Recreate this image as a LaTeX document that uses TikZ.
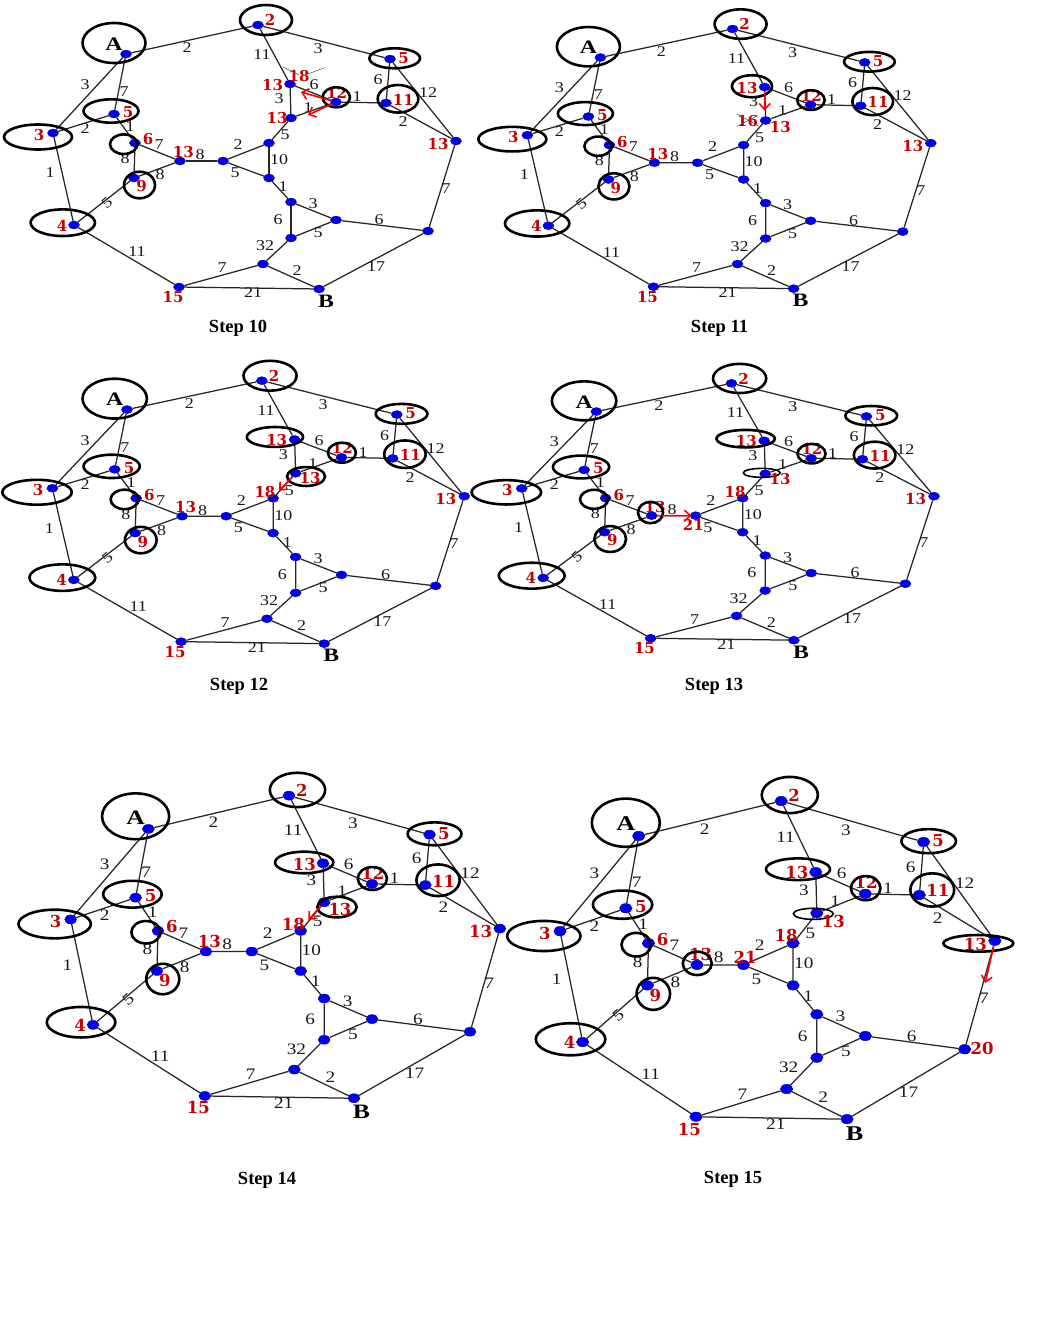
\documentclass[tikz,border=0pt]{standalone}
\usepackage{fontspec}
\setmainfont{Liberation Serif}
\newfontfamily\wfont{Liberation Serif}[FakeStretch=1.2]
\newfontfamily\abfont{Liberation Serif}[FakeStretch=1.25]
\newfontfamily\rfont{DejaVu Serif}
\usetikzlibrary{shapes.geometric,arrows.meta}
\definecolor{lblred}{RGB}{200,0,0}
\definecolor{dotblue}{RGB}{0,0,245}
\def\wsz{15}\def\rsz{15}\def\absz{19}\def\dotw{11pt}\def\doth{8pt}
\tikzset{
 v/.style={ellipse, fill=dotblue, draw=blue!55!black, line width=0.4pt, minimum width=\dotw, minimum height=\doth, inner sep=0pt},
 e/.style={draw=black!85, line width=1.25pt},
 wl/.style={font=\wfont\fontsize{\wsz}{\wsz}\selectfont, inner sep=0pt, text=black!90},
 rl/.style={font=\rfont\bfseries\fontsize{\rsz}{\rsz}\selectfont, inner sep=0pt, text=lblred},
 ab/.style={font=\abfont\bfseries\fontsize{\absz}{\absz}\selectfont, inner sep=0pt},
 ttl/.style={font=\bfseries\fontsize{18.5}{18.5}\selectfont, inner sep=0pt},
 ring/.style={draw=black, line width=2.6pt},
 thinring/.style={draw=black, line width=1.6pt},
 rarrow/.style={draw=red, line width=1.6pt, -{Straight Barb[length=6pt,width=11pt]}},
 cross/.style={draw=black!70, line width=0.5pt},
}
\newcommand\basegraph{%
 \node[v] (A) at (126,54) {};
 \node[v] (n2) at (258,25) {};
 \node[v] (n5R) at (390,59) {};
 \node[v] (n3) at (53,133) {};
 \node[v] (n4) at (74,225) {};
 \node[v] (n15) at (179,287) {};
 \node[v] (B) at (319,289) {};
 \node[v] (I) at (428,231) {};
 \node[v] (R) at (456,141) {};
 \node[v] (n11) at (386,103) {};
 \node[v] (n12) at (336,102) {};
 \node[v] (Ua) at (290,84) {};
 \node[v] (Ub) at (291,118) {};
 \node[v] (D) at (269,143) {};
 \node[v] (C) at (223,161) {};
 \node[v] (M) at (180,161) {};
 \node[v] (n6) at (135,143) {};
 \node[v] (n9) at (134,178) {};
 \node[v] (n5L) at (114,114) {};
 \node[v] (E) at (269,178) {};
 \node[v] (F) at (291,202) {};
 \node[v] (G) at (336,220) {};
 \node[v] (H) at (291,238) {};
 \node[v] (J) at (263,264) {};
 \draw[e] (A) -- (n2); \draw[e] (A) -- (n3); \draw[e] (A) -- (n5L);
 \draw[e] (n2) -- (n5R); \draw[e] (n2) -- (Ua);
 \draw[e] (n3) -- (n5L); \draw[e] (n3) -- (n4);
 \draw[e] (n5L) -- (n6); \draw[e] (n6) -- (n9); \draw[e] (n6) -- (M); \draw[e] (n9) -- (M);
 \draw[e] (M) -- (C); \draw[e] (n9) -- (n4); \draw[e] (n4) -- (n15);
 \draw[e] (Ua) -- (Ub); \draw[e] (Ua) -- (n12); \draw[e] (Ub) -- (n12);
 \draw[e] (n12) -- (n11); \draw[e] (n5R) -- (n11); \draw[e] (n5R) -- (R); \draw[e] (n11) -- (R);
 \draw[e] (Ub) -- (D); \draw[e] (C) -- (D); \draw[e] (C) -- (E); \draw[e] (D) -- (E);
 \draw[e] (E) -- (F); \draw[e] (F) -- (G); \draw[e] (F) -- (H); \draw[e] (H) -- (G);
 \draw[e] (G) -- (I); \draw[e] (R) -- (I); \draw[e] (H) -- (J); \draw[e] (J) -- (n15);
 \draw[e] (J) -- (B); \draw[e] (n15) -- (B); \draw[e] (B) -- (I);
 \node[wl] (wA2) at (187,48) {2};
 \node[wl] (wA3) at (85,85) {3};
 \node[wl] (wA5) at (124,92) {7};
 \node[wl] (w25) at (318,49) {3};
 \node[wl] (w2U) at (262,55) {11};
 \node[wl] (w35) at (85,129) {2};
 \node[wl] (w34) at (50,173) {1};
 \node[wl] (w56) at (130,127) {1};
 \node[wl] (w69) at (125,159) {8};
 \node[wl] (w6M) at (159,145) {7};
 \node[wl] (w9M) at (160,175) {8};
 \node[wl] (wMC) at (200,155) {8};
 \node[wl,rotate=40] (w94) at (107,203) {5};
 \node[wl] (w415) at (137,252) {11};
 \node[wl] (wUU) at (279,99) {3};
 \node[wl] (wU12) at (314,85) {6};
 \node[wl] (wUb12) at (308,108) {1};
 \node[wl] (w1211) at (357,97) {1};
 \node[wl] (w511) at (378,80) {6};
 \node[wl] (w5R) at (428,93) {12};
 \node[wl] (w11R) at (403,122) {2};
 \node[wl] (wUD) at (285,135) {5};
 \node[wl] (wCD) at (238,145) {2};
 \node[wl] (wCE) at (235,173) {5};
 \node[wl] (wDE) at (279,160) {10};
 \node[wl] (wEF) at (283,187) {1};
 \node[wl] (wFG) at (313,204) {3};
 \node[wl] (wFH) at (278,220) {6};
 \node[wl] (wHG) at (318,233) {5};
 \node[wl] (wGI) at (379,220) {6};
 \node[wl] (wRI) at (446,189) {7};
 \node[wl] (wHJ) at (265,246) {32};
 \node[wl] (wJ15) at (222,268) {7};
 \node[wl] (wJB) at (297,271) {2};
 \node[wl] (w15B) at (253,293) {21};
 \node[wl] (wBI) at (376,267) {17};
 \node[ab] (tA) at (114,44) {A};
 \node[ab] (tB) at (326,301) {B};
 \node[rl] (r3) at (39,135) {3};
 \node[rl] (r4) at (62,225.5) {4};
 \node[rl] (r5L) at (128,112.5) {5};
 \node[rl] (r6) at (148,139.5) {6};
 \node[rl] (r9) at (141.5,186.5) {9};
 \node[rl] (r15) at (173,297.5) {15};
 \node[rl] (r2) at (270,20) {2};
 \node[rl] (r5R) at (403.5,57.7) {5};
 \node[rl] (r11) at (403.3,99.5) {11};
 \node[rl] (r12) at (336.7,92.8) {12};
 \node[rl] (rM) at (183.3,152) {13};
 \node[rl] (rR) at (438,143.8) {13};
 \node[rl] (rUa) at (272.5,84.7) {13};
 \draw[ring] (114,43) ellipse [x radius=31.5, y radius=20];
 \draw[ring] (266,20) ellipse [x radius=26, y radius=15];
 \draw[ring] (394.7,58.3) ellipse [x radius=25.3, y radius=10];
 \draw[ring] (398,98.8) ellipse [x radius=20.3, y radius=13.8];
 \draw[ring] (336.3,97.3) ellipse [x radius=13.7, y radius=10];
 \draw[ring] (111,111) ellipse [x radius=27.5, y radius=11.7];
 \draw[ring] (38,137) ellipse [x radius=34, y radius=12.5];
 \draw[ring] (123.7,144.2) ellipse [x radius=13.7, y radius=9.8];
 \draw[ring] (139.5,185) ellipse [x radius=15.5, y radius=13.3];
 \draw[ring] (62.8,222.7) ellipse [x radius=32.2, y radius=13.3];
}
\begin{document}
\begin{tikzpicture}[x=1pt,y=-1pt]
\fill[white] (0,0) rectangle (1061,1328);
\useasboundingbox (0,0) rectangle (1061,1328);
% ---------- Step 10
\begin{scope}[name prefix=p10-]
 \basegraph
 \node[rl] (rUb) at (277,118.3) {13};
 \node[rl] (r18) at (299,76) {18};
 \draw[cross] (283,67) -- (299,75);
 \draw[cross] (308,74) -- (325,67.5);
 \coordinate (a1) at (301,92);
 \coordinate (a2) at (308,115);
 \draw[rarrow] (n12) -- (a1);
 \draw[rarrow] (n12) -- (a2);
\end{scope}
% ---------- Step 11
\begin{scope}[name prefix=p11-, shift={(474.3,4.4)}, xscale=1.001, yscale=0.9836]
 \basegraph
 \draw[ring] (277.4,83.2) ellipse [x radius=20, y radius=11.2];
 \node[rl] (rUb) at (305.7,124.3) {13};
 \node[rl] (r16) at (273,118.2) {16};
 \draw[cross] (262.4,111.4) -- (284,123.6);
 \draw[cross] (262.4,124) -- (283,113);
 \coordinate (a1) at (290,108);
 \draw[rarrow] (Ua) -- (a1);
\end{scope}
% ---------- Step 12
\begin{scope}[name prefix=p12-, shift={(-1.8,355.8)}, xscale=1.022, yscale=0.996]
 \basegraph
 \draw[ring] (270.8,81.5) ellipse [x radius=27.5, y radius=10];
 \draw[ring] (301.2,121.2) ellipse [x radius=18.6, y radius=9.5];
 \node[rl] (rUb) at (305.1,122.7) {13};
 \node[rl] (r18) at (261,136.4) {18};
 \coordinate (a1) at (274.8,135.4);
 \draw[rarrow] (Ub) -- (a1);
\end{scope}
% ---------- Step 13
\begin{scope}[name prefix=p13-, shift={(467.5,359)}, xscale=1.023, yscale=0.973]
 \basegraph
 \draw[ring] (271.9,81.9) ellipse [x radius=28.5, y radius=9];
 \draw[thinring] (287.6,117) ellipse [x radius=18, y radius=4.6];
 \node[rl] (rUb) at (305.5,123.3) {13};
 \node[rl] (r18) at (261.5,136.4) {18};
 \draw[ring] (178.9,157.8) ellipse [x radius=12.2, y radius=11];
 \node[rl] (r21) at (220.7,170.6) {21};
 \coordinate (a1) at (219,161);
 \draw[rarrow] (M) -- (a1);
\end{scope}
% ---------- Step 14
\begin{scope}[name prefix=p14-, shift={(14.2,767)}, xscale=1.065, yscale=1.146]
 \def\wsz{16}\def\rsz{16.5}\def\absz{20.5}\def\dotw{12pt}\def\doth{9pt}
 \basegraph
 \draw[ring] (272.3,83.3) ellipse [x radius=27.4, y radius=9.4];
 \draw[ring] (303.1,122.2) ellipse [x radius=18.5, y radius=9];
 \node[rl] (rUb) at (305.9,124.2) {13};
 \node[rl] (r18) at (262.1,137) {18};
 \coordinate (a1) at (276.2,133.5);
 \draw[rarrow] (Ub) -- (a1);
\end{scope}
% ---------- Step 15
\begin{scope}[name prefix=p15-, shift={(502.8,770.9)}, xscale=1.079, yscale=1.205]
 \def\wsz{16}\def\rsz{16.5}\def\absz{21}\def\dotw{12.5pt}\def\doth{9.5pt}
 \basegraph
 \draw[ring] (273.6,81.6) ellipse [x radius=29.7, y radius=9];
 \draw[thinring] (287.8,118.6) ellipse [x radius=18.5, y radius=4.6];
 \node[rl] (rUb) at (306.3,125.1) {13};
 \node[rl] (r18) at (262.5,136.2) {18};
 \draw[ring] (180.2,159.7) ellipse [x radius=13.4, y radius=9.7];
 \node[rl] (r21) at (224.5,154.7) {21};
 \draw[ring] (440.7,143.1) ellipse [x radius=32.4, y radius=6.9];
 \coordinate (a1) at (447,176);
 \draw[rarrow] (R) -- (a1);
 \node[rl] (r20) at (444.3,230.2) {20};
\end{scope}
% ---------- titles
\node[ttl] (t10) at (238,328) {Step 10};
\node[ttl] (t11) at (719.5,328) {Step 11};
\node[ttl] (t12) at (239,686) {Step 12};
\node[ttl] (t13) at (714,686) {Step 13};
\node[ttl] (t14) at (267,1180) {Step 14};
\node[ttl] (t15) at (733,1179) {Step 15};
\end{tikzpicture}
\end{document}
